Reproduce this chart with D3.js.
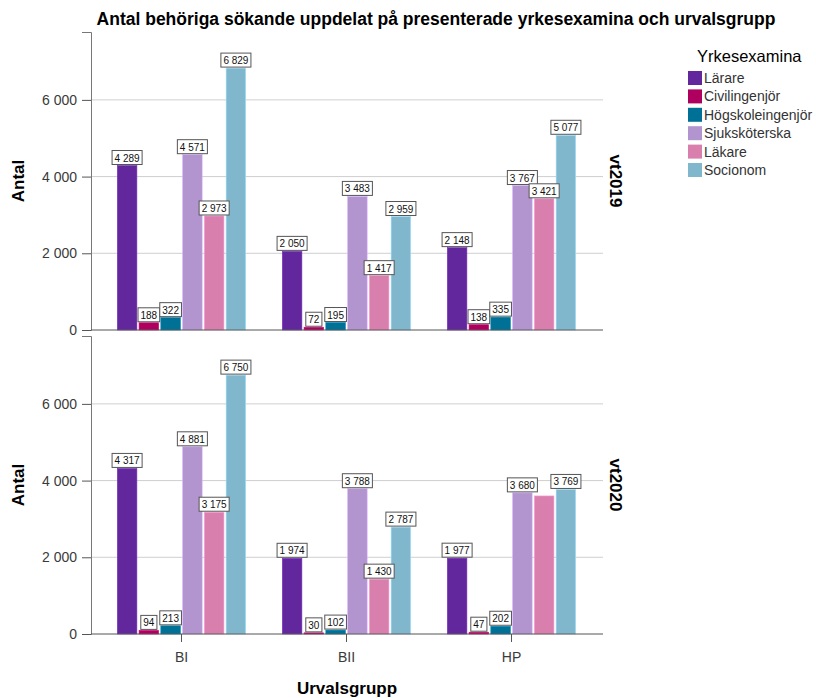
<!DOCTYPE html>
<html>
<head>
<meta charset="utf-8">
<script src="https://cdn.jsdelivr.net/npm/d3@7"></script>
<style>
  body { margin: 0; background: #fff; }
  svg { font-family: "Liberation Sans", Arial, sans-serif; }
</style>
</head>
<body>
<div id="chart"></div>
<script>
// data
const groups = ['BI', 'BII', 'HP'];
const exams = ['Lärare', 'Civilingenjör', 'Högskoleingenjör', 'Sjuksköterska', 'Läkare', 'Socionom'];
const colors = ['#62279c', '#b0005f', '#007196', '#b294cf', '#d97fae', '#80b7cc'];
const terms = ['vt2019', 'vt2020'];
const yTicks = [0, 2000, 4000, 6000];

// values per urvalsgrupp, in the order of exams
const vt2019 = {
  BI:  [4289, 188, 322, 4571, 2973, 6829],
  BII: [2050, 72, 195, 3483, 1417, 2959],
  HP:  [2148, 138, 335, 3767, 3421, 5077]
};
const vt2020 = {
  BI:  [4317, 94, 213, 4881, 3175, 6750],
  BII: [1974, 30, 102, 3788, 1430, 2787],
  HP:  [1977, 47, 202, 3680, 3600, 3769]
};
// label not shown in the original
const hiddenLabels = [['vt2020', 'HP', 'Läkare']];

const termData = { vt2019, vt2020 };

const width = 816, height = 698;
const margin = { left: 91, right: 603 };
const panelTops = [32, 336];
const panelH = 298;

const svg = d3.select('#chart').append('svg')
  .attr('width', width)
  .attr('height', height);

// title
svg.append('text')
  .attr('x', 436).attr('y', 25)
  .attr('text-anchor', 'middle')
  .style('font-weight', 'bold')
  .style('font-size', '17.5px')
  .text('Antal behöriga sökande uppdelat på presenterade yrkesexamina och urvalsgrupp');

const x0 = d3.scaleBand().domain(groups).range([99, 594]);
const x1 = d3.scaleBand().domain(exams).range([-64.2, 64.2]).paddingInner(0.1);
const fmt = v => d3.format(',')(v).replace(/,/g, ' ');

terms.forEach((term, ti) => {
  const top = panelTops[ti];
  const y = d3.scaleLinear().domain([0, 7770]).range([top + panelH, top]);
  const g = svg.append('g');

  // grid
  g.selectAll('.grid').data(yTicks.filter(d => d > 0)).join('line')
    .attr('x1', margin.left).attr('x2', margin.right)
    .attr('y1', d => y(d)).attr('y2', d => y(d))
    .attr('stroke', '#cfcfcf').attr('stroke-width', 1);

  // y axis
  const yAxis = g.append('g')
    .attr('transform', `translate(${margin.left},0)`)
    .call(d3.axisLeft(y).tickValues(yTicks).tickSize(9).tickPadding(5).tickFormat(fmt));
  yAxis.select('.domain').attr('stroke', '#777');
  yAxis.selectAll('.tick line').attr('stroke', '#555');
  yAxis.selectAll('.tick text')
    .style('font-size', '14px')
    .style('font-family', '"Liberation Sans", Arial, sans-serif')
    .attr('fill', '#3a3a3a');

  // bars
  groups.forEach(grp => {
    const vals = termData[term][grp];
    const gx = x0(grp) + x0.bandwidth() / 2;
    exams.forEach((ex, i) => {
      const v = vals[i];
      const bx = gx + x1(ex);
      g.append('rect')
        .attr('x', bx).attr('y', y(v))
        .attr('width', x1.bandwidth())
        .attr('height', y(0) - y(v))
        .attr('fill', colors[i])
        .attr('stroke', d3.color(colors[i]).brighter(0.6))
        .attr('stroke-width', 0.6);
    });
  });

  // baseline
  g.append('line')
    .attr('x1', margin.left).attr('x2', margin.right)
    .attr('y1', y(0)).attr('y2', y(0))
    .attr('stroke', '#555').attr('stroke-width', 1);

  // value labels
  groups.forEach(grp => {
    const vals = termData[term][grp];
    const gx = x0(grp) + x0.bandwidth() / 2;
    exams.forEach((ex, i) => {
      if (hiddenLabels.some(h => h[0] === term && h[1] === grp && h[2] === ex)) return;
      const v = vals[i];
      const cx = gx + x1(ex) + x1.bandwidth() / 2;
      const lab = g.append('g');
      const t = lab.append('text')
        .attr('x', cx).attr('y', y(v) - 4)
        .attr('text-anchor', 'middle')
        .style('font-size', '10px')
        .attr('fill', '#111')
        .text(fmt(v));
      const w = t.node().getComputedTextLength() + 5;
      lab.insert('rect', 'text')
        .attr('x', cx - w / 2).attr('y', y(v) - 15)
        .attr('width', w).attr('height', 14)
        .attr('fill', '#fff')
        .attr('stroke', '#555').attr('stroke-width', 1);
    });
  });

  // y title
  svg.append('text')
    .attr('transform', `translate(24,${top + panelH / 2}) rotate(-90)`)
    .attr('text-anchor', 'middle')
    .style('font-weight', 'bold').style('font-size', '17px')
    .text('Antal');

  // strip label
  svg.append('text')
    .attr('transform', `translate(610,${top + panelH / 2}) rotate(90)`)
    .attr('text-anchor', 'middle')
    .style('font-weight', 'bold').style('font-size', '17px')
    .text(term);

  // x axis on bottom panel
  if (ti === terms.length - 1) {
    const xAxis = g.append('g')
      .attr('transform', `translate(0,${y(0)})`)
      .call(d3.axisBottom(x0).tickSize(8).tickPadding(10));
    xAxis.select('.domain').remove();
    xAxis.selectAll('.tick line').attr('stroke', '#555');
    xAxis.selectAll('.tick text')
      .style('font-size', '14px')
      .style('font-family', '"Liberation Sans", Arial, sans-serif')
      .attr('fill', '#3a3a3a');
  }
});

// x title
svg.append('text')
  .attr('x', 347).attr('y', 694)
  .attr('text-anchor', 'middle')
  .style('font-weight', 'bold').style('font-size', '17px')
  .text('Urvalsgrupp');

// legend
const legend = svg.append('g').attr('transform', 'translate(688,0)');
legend.append('text')
  .attr('x', 9).attr('y', 62)
  .style('font-size', '16.5px')
  .text('Yrkesexamina');
exams.forEach((ex, i) => {
  const ly = 71 + i * 18.4;
  legend.append('rect')
    .attr('x', 0).attr('y', ly)
    .attr('width', 14).attr('height', 14)
    .attr('fill', colors[i]);
  legend.append('text')
    .attr('x', 16).attr('y', ly + 12)
    .style('font-size', '14px')
    .attr('fill', '#333')
    .text(ex);
});
</script>
</body>
</html>
